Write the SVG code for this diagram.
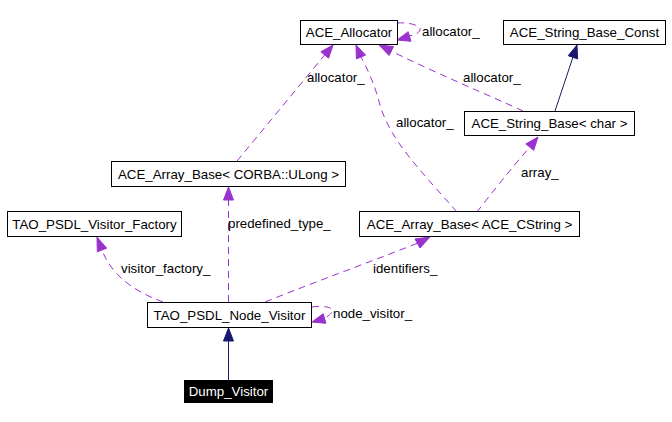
<svg xmlns="http://www.w3.org/2000/svg" width="672" height="422" viewBox="0 0 672 422">
<style>
text{font-family:"Liberation Sans",Arial,Helvetica,sans-serif;font-size:13.3px;fill:#000}
.node rect{fill:#fff;stroke:#000;stroke-width:1}
.node text{text-anchor:middle}
.dash{fill:none;stroke:#9a32cd;stroke-width:1;stroke-dasharray:7,5}
.solid{fill:none;stroke:#191970;stroke-width:1}
.ah{fill:#9a32cd;stroke:#9a32cd;stroke-width:1}
.nh{fill:#191970;stroke:#191970;stroke-width:1}
</style>
<rect width="672" height="422" fill="#fff"/>
<g id="connectors">
  <path class="solid" d="M228.5,380 L228.5,341"/>
  <polygon class="nh" points="228.5,328 223.5,341 233.5,341"/>
  <path class="dash" d="M228.5,302 L228.5,200"/>
  <polygon class="ah" points="228.5,187 223.5,200 233.5,200"/>
  <path class="dash" d="M163,302 C130,290 110,272 102,250"/>
  <polygon class="ah" points="97,237 106.7,248.2 97.3,251.8"/>
  <path class="dash" d="M265,302 C320,280 370,262 418,243"/>
  <polygon class="ah" points="430,237 420,248 415,239"/>
  <path class="dash" d="M312,307 C325,305 335,308 332,312 C330,315 328,316 325,318"/>
  <polygon class="ah" points="312,322 325.9,323.3 323.2,313.7"/>
  <path class="dash" d="M397,23 C410,22 422,26 420,30 C419,33 415,35 409,36"/>
  <polygon class="ah" points="397,40 410.9,41.3 408.2,31.7"/>
  <path class="dash" d="M237,161 L324.7,55"/>
  <polygon class="ah" points="333,45 328.6,58.2 320.9,51.8"/>
  <path class="dash" d="M457,212 C420,170 390,140 380,105 C375,85 367,68 361,57"/>
  <polygon class="ah" points="356,45 365.6,55.1 356.4,58.9"/>
  <path class="dash" d="M523,111 C495,98 440,75 391,51"/>
  <polygon class="ah" points="379,45 393.5,46.5 389,55.5"/>
  <path class="solid" d="M555,111 L573,57"/>
  <polygon class="nh" points="577,45 577.6,58.9 568.2,55.7"/>
  <path class="dash" d="M477,212 C490,195 510,170 529,148"/>
  <polygon class="ah" points="538,137 533.7,150.3 525.9,143.9"/>
  <text x="422" y="36">allocator_</text>
  <text x="307" y="82">allocator_</text>
  <text x="463" y="82">allocator_</text>
  <text x="396" y="127">allocator_</text>
  <text x="521" y="177">array_</text>
  <text x="228" y="228">predefined_type_</text>
  <text x="121" y="273">visitor_factory_</text>
  <text x="373" y="273">identifiers_</text>
  <text x="333" y="318">node_visitor_</text>
</g>
<g id="ACE_Allocator" class="node"><rect x="300.5" y="20.5" width="97" height="24"/><text x="349" y="37">ACE_Allocator</text></g>
<g id="ACE_String_Base_Const" class="node"><rect x="503.5" y="20.5" width="162" height="24"/><text x="584.5" y="37">ACE_String_Base_Const</text></g>
<g id="ACE_String_Base_char" class="node"><rect x="464.5" y="111.5" width="170" height="24"/><text x="549.5" y="128">ACE_String_Base&lt; char &gt;</text></g>
<g id="ACE_Array_Base_ULong" class="node"><rect x="111.5" y="161.5" width="234" height="25"/><text x="228.5" y="179">ACE_Array_Base&lt; CORBA::ULong &gt;</text></g>
<g id="TAO_PSDL_Visitor_Factory" class="node"><rect x="7.5" y="211.5" width="174" height="25"/><text x="94.5" y="229">TAO_PSDL_Visitor_Factory</text></g>
<g id="ACE_Array_Base_CString" class="node"><rect x="359.5" y="211.5" width="220" height="25"/><text x="469.5" y="229">ACE_Array_Base&lt; ACE_CString &gt;</text></g>
<g id="TAO_PSDL_Node_Visitor" class="node"><rect x="147.5" y="302.5" width="164" height="25"/><text x="229.5" y="320">TAO_PSDL_Node_Visitor</text></g>
<g id="Dump_Visitor"><rect x="184" y="380" width="89" height="23" fill="#000"/><text x="228.5" y="396" text-anchor="middle" style="fill:#fff">Dump_Visitor</text></g>
</svg>
